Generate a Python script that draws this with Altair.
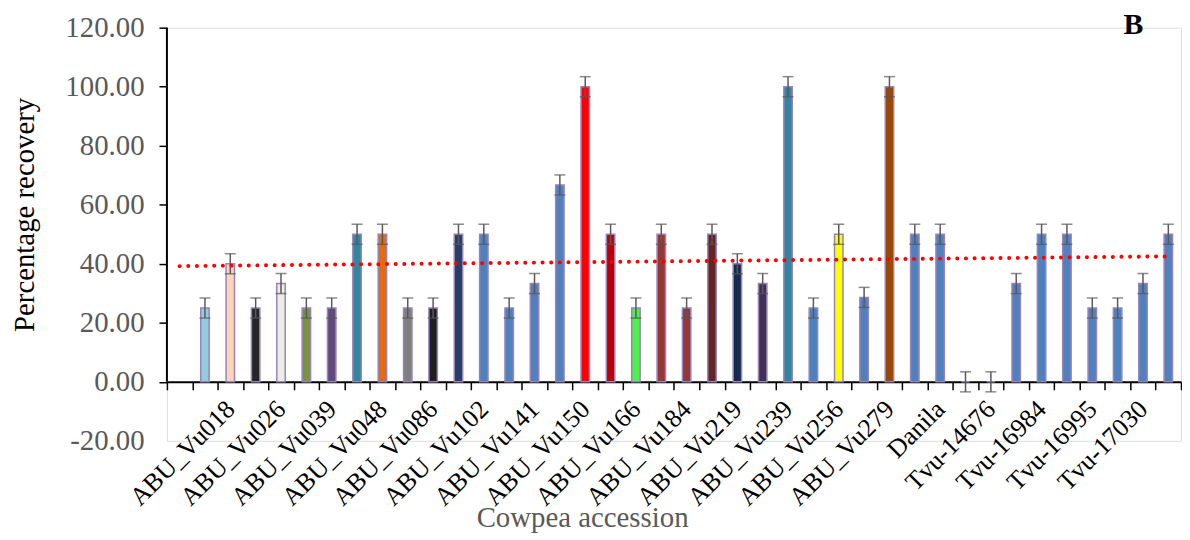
import altair as alt
import pandas as pd

# ---- data ----
accession_labels = ["ABU_Vu018", "ABU_Vu026", "ABU_Vu039", "ABU_Vu048", "ABU_Vu086",
                    "ABU_Vu102", "ABU_Vu141", "ABU_Vu150", "ABU_Vu166", "ABU_Vu184",
                    "ABU_Vu219", "ABU_Vu239", "ABU_Vu256", "ABU_Vu279", "Danila",
                    "Tvu-14676", "Tvu-16984", "Tvu-16995", "Tvu-17030"]
label_bands = [2, 4, 6, 8, 10, 12, 14, 16, 18, 20, 22, 24, 26, 28, 30, 32, 34, 36, 38]

bar_bands = list(range(1, 40))
bar_values = [25, 40, 25, 33.3, 25, 25, 50, 50, 25, 25,
              50, 50, 25, 33.3, 66.7, 100, 50, 25, 50, 25,
              50, 40, 33.3, 100, 25, 50, 28.6, 100, 50, 50,
              0, 0, 33.3, 50, 50, 25, 25, 33.3, 50]
bar_errors = [3.4, 3.4, 3.4, 3.4, 3.4, 3.4, 3.4, 3.4, 3.4, 3.4,
              3.4, 3.4, 3.4, 3.4, 3.4, 3.4, 3.4, 3.4, 3.4, 3.4,
              3.4, 3.4, 3.4, 3.4, 3.4, 3.4, 3.4, 3.4, 3.4, 3.4,
              3.4, 3.4, 3.4, 3.4, 3.4, 3.4, 3.4, 3.4, 3.4]
bar_colors = ["#93CDDD", "#FCD5B5", "#262626", "#EEECE1", "#77933C",
              "#604A7B", "#31859C", "#E46C0A", "#7F7F7F", "#1F1F1F",
              "#254061", "#4F81BD", "#4F81BD", "#4F81BD", "#4F81BD",
              "#FF0000", "#C00000", "#4DF04D", "#953735", "#953735",
              "#632523", "#162B4D", "#403152", "#31859C", "#4F81BD",
              "#FFFF00", "#4F81BD", "#984807", "#4F81BD", "#4F81BD",
              "#4F81BD", "#4F81BD", "#4F81BD", "#4F81BD", "#4F81BD",
              "#4F81BD", "#4F81BD", "#4F81BD", "#4F81BD"]

trend_bands = [0, 39]
trend_values = [39.2, 42.5]

y_ticks = [-20, 0, 20, 40, 60, 80, 100, 120]
panel_label = ["B"]

# ---- tables ----
df = pd.DataFrame({"band": bar_bands, "value": bar_values,
                   "err": bar_errors, "color": bar_colors})
df["lo"] = df["value"] - df["err"]
df["hi"] = df["value"] + df["err"]
trend_df = pd.DataFrame({"band": trend_bands, "value": trend_values})
axis_df = pd.DataFrame({"y0": [0], "y1": [120]})
panel_df = pd.DataFrame({"t": panel_label})

label_map = {b: l for b, l in zip(label_bands, accession_labels)}
label_expr = "{" + ",".join(f"'{b}':'{l}'" for b, l in label_map.items()) + "}[datum.value] || ''"
ylabel_expr = "datum.value < 0 ? '-' + format(-datum.value, '.2f') : format(datum.value, '.2f')"

FONT = "Liberation Serif"
GREY = "#595959"

xscale = alt.Scale(domain=list(range(40)), paddingInner=0, paddingOuter=0)
yscale = alt.Scale(domain=[-20, 120], nice=False, zero=False)

xaxis = alt.Axis(
    orient="bottom", offset=-59.4, tickBand="extent",
    domainColor="black", domainWidth=2, tickColor="black", tickSize=8, tickWidth=1.5,
    labelAngle=-45, labelAlign="right", labelBaseline="middle", labelPadding=15,
    labelFont=FONT, labelFontSize=26, labelColor="black", labelOverlap=False,
    labelExpr=label_expr, grid=False,
    title="Cowpea accession", titleFont=FONT, titleFontSize=29, titleFontWeight="normal",
    titleColor=GREY, titleX=418, titleY=146, titleAlign="center", titleBaseline="alphabetic",
)
yaxis = alt.Axis(
    values=y_ticks, labelExpr=ylabel_expr, domain=False, grid=False,
    tickColor="black", tickSize=8, tickWidth=1.5,
    tickOpacity={"condition": {"test": "datum.value < 0", "value": 0}, "value": 1},
    labelFont=FONT, labelFontSize=29, labelColor=GREY, labelPadding=15,
    title="Percentage recovery", titleFont=FONT, titleFontSize=29, titleFontWeight="normal",
    titleColor="black", titleX=-134, titleY=188, titleAlign="center", titleBaseline="alphabetic",
)

X = alt.X("band:O", scale=xscale, axis=xaxis, title="Cowpea accession")

bars = alt.Chart(df).mark_bar(size=8.5, stroke="#9883BE", strokeWidth=1.5).encode(
    x=X,
    y=alt.Y("value:Q", scale=yscale, axis=yaxis, title="Percentage recovery"),
    color=alt.Color("color:N", scale=None),
)
stems = alt.Chart(df).mark_rule(color=GREY, strokeWidth=1.5).encode(
    x=alt.X("band:O", title="Cowpea accession"),
    y=alt.Y("lo:Q", title="Percentage recovery"), y2="hi:Q",
)
caps_hi = alt.Chart(df).mark_tick(color=GREY, size=11, thickness=1.5).encode(
    x=alt.X("band:O", title="Cowpea accession"),
    y=alt.Y("hi:Q", title="Percentage recovery"),
)
caps_lo = alt.Chart(df).mark_tick(color=GREY, size=11, thickness=1.5).encode(
    x=alt.X("band:O", title="Cowpea accession"),
    y=alt.Y("lo:Q", title="Percentage recovery"),
)
trend = alt.Chart(trend_df).mark_line(color="#FF0000", strokeWidth=4,
                                      strokeDash=[0.1, 8.6], strokeCap="round").encode(
    x=alt.X("band:O", title="Cowpea accession"),
    y=alt.Y("value:Q", title="Percentage recovery"),
)
yline = alt.Chart(axis_df).mark_rule(color="black", strokeWidth=2).encode(
    x=alt.value(0),
    y=alt.Y("y0:Q", title="Percentage recovery"), y2="y1:Q",
)
panel = alt.Chart(panel_df).mark_text(font=FONT, fontSize=30, fontWeight="bold",
                                      color="black", align="center",
                                      baseline="alphabetic").encode(
    text="t:N", x=alt.value(973), y=alt.value(6),
)

chart = alt.layer(bars, stems, caps_hi, caps_lo, trend, yline, panel).properties(
    width=1021, height=416,
    padding={"left": 2, "top": 0, "right": 0, "bottom": 0},
).configure_view(stroke=None).configure(background="white")

chart.save("out.html", embed_options={"renderer": "svg", "actions": False})
